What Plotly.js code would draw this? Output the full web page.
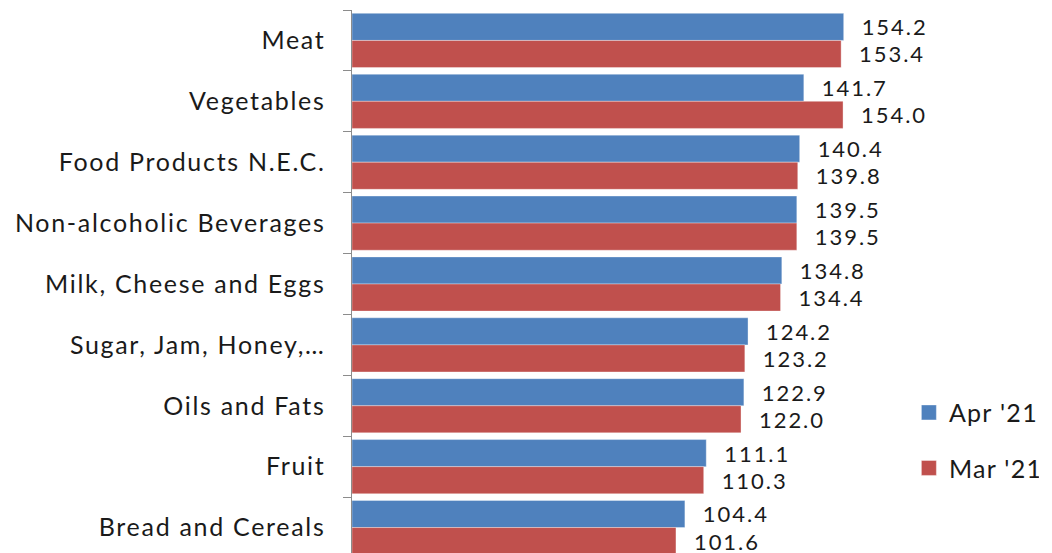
<!DOCTYPE html>
<html><head><meta charset="utf-8">
<script src="https://cdn.plot.ly/plotly-3.0.1.min.js"></script>
<style>html,body{margin:0;padding:0;overflow:hidden;background:#fff}#chart{width:1052px;height:564px}
#chart text{letter-spacing:1.7px}
#chart text.bartext{letter-spacing:2.3px}
#chart .legend text{letter-spacing:1.3px}</style>
</head><body><div id="chart"></div>
<script>
const categories = ["Meat","Vegetables","Food Products N.E.C.","Non-alcoholic Beverages","Milk, Cheese and Eggs","Sugar, Jam, Honey,…","Oils and Fats","Fruit","Bread and Cereals"];
const apr21 = [154.2,141.7,140.4,139.5,134.8,124.2,122.9,111.1,104.4];
const mar21 = [153.4,154.0,139.8,139.5,134.4,123.2,122.0,110.3,101.6];
const seriesNames = ["Apr '21","Mar '21"];
const colors = ['#4F81BD','#C0504D'];
const FONT = 'Lato, sans-serif';
const pad = '\u00a0\u00a0\u00a0';
function tr(vals, name, color){
  return {type:'bar', orientation:'h', y:categories, x:vals, name:name, showlegend:false,
    marker:{color:color, line:{color:'rgba(255,255,255,0.35)', width:1}},
    text:vals.map(v=>pad+v.toFixed(1)), textposition:'outside', cliponaxis:false,
    textfont:{family:FONT, size:26, color:'#1a1a1a'}, hoverinfo:'x+y'};
}
function leg(name, color, grp){
  return {type:'scatter', mode:'markers', x:[null], y:[null], name:name, legendgroup:grp,
    marker:{symbol:'square', size:15, color:color, line:{color:'rgba(255,255,255,0.4)',width:1}}};
}
const data=[tr(apr21,seriesNames[0],colors[0]), tr(mar21,seriesNames[1],colors[1]),
  leg(seriesNames[0],colors[0],'a'), leg(seriesNames[1],colors[1],'b')];
const layout={width:1052,height:564,margin:{l:352,r:142,t:10,b:6},
  paper_bgcolor:'#fff',plot_bgcolor:'#fff',barmode:'group',bargap:0.11,bargroupgap:0,
  xaxis:{range:[0,175],visible:false,showgrid:false,zeroline:false},
  yaxis:{type:'category',autorange:'reversed',showline:true,linecolor:'#8c8c8c',linewidth:1.5,ticks:'outside',tickson:'boundaries',
    ticklen:8,tickcolor:'#8c8c8c',ticklabelstandoff:20,showgrid:false,
    tickfont:{family:FONT,size:25,color:'#1a1a1a'}},
  showlegend:true,
  legend:{x:0.998,y:0.215,yanchor:'middle',xanchor:'left',traceorder:'grouped',tracegroupgap:20,
    font:{family:FONT,size:25,color:'#1a1a1a'},itemwidth:30}
};
Plotly.newPlot('chart',data,layout,{displayModeBar:false,staticPlot:true});
</script></body></html>
